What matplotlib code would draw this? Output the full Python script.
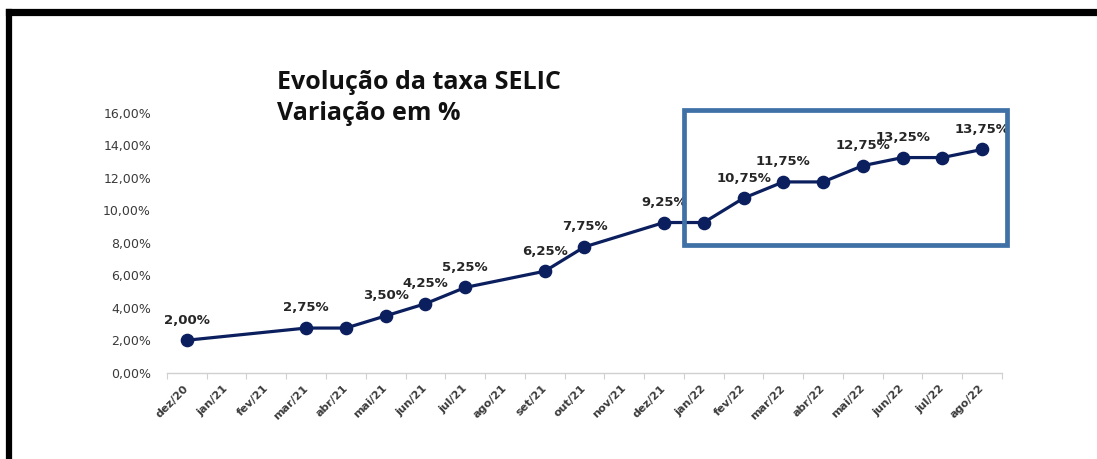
'''Evolucao da taxa SELIC, dez/20 a ago/22'''

import numpy as np
import matplotlib.pyplot as plt
from matplotlib.patches import Rectangle
from matplotlib.ticker import FuncFormatter, FixedLocator

months = ['dez/20', 'jan/21', 'fev/21', 'mar/21', 'abr/21', 'mai/21', 'jun/21',
          'jul/21', 'ago/21', 'set/21', 'out/21', 'nov/21', 'dez/21', 'jan/22',
          'fev/22', 'mar/22', 'abr/22', 'mai/22', 'jun/22', 'jul/22', 'ago/22']
selic = [2.00, None, None, 2.75, 2.75, 3.50, 4.25, 5.25, None, 6.25, 7.75,
         None, 9.25, 9.25, 10.75, 11.75, 11.75, 12.75, 13.25, 13.25, 13.75]
show_label = [1, 0, 0, 1, 0, 1, 1, 1, 0, 1, 1, 0, 1, 0, 1, 1, 0, 1, 1, 0, 1]

NAVY = '#0b1f5e'
BOX = '#3f70a6'


def pct(v, pos=None):
    return f'{v:.2f}%'.replace('.', ',')


def make_plot():
    fig = plt.figure(figsize=(10.97, 4.59), dpi=100)
    ax = fig.add_axes([0.1522, 0.188, 0.7612, 0.566])

    x = np.array([i for i, v in enumerate(selic) if v is not None])
    y = np.array([v for v in selic if v is not None])
    ax.plot(x, y, color=NAVY, lw=2.3, marker='o', ms=8.8,
            markerfacecolor=NAVY, markeredgecolor=NAVY, zorder=3)

    for i, v in enumerate(selic):
        if v is not None and show_label[i]:
            ax.annotate(pct(v), (i, v), xytext=(0, 14.5), textcoords='offset points',
                        ha='center', va='center', fontsize=9.5, fontweight='bold',
                        color='#262626')

    ax.set_xlim(-0.5, len(months) - 0.5)
    ax.set_ylim(0, 16)
    ax.set_yticks(np.arange(0, 17, 2))
    ax.yaxis.set_major_formatter(FuncFormatter(pct))
    ax.tick_params(axis='y', length=0, pad=11.5, labelsize=9, labelcolor='#3a3a3a')

    ax.set_xticks(range(len(months)))
    ax.set_xticklabels(months, rotation=45, ha='right', va='center',
                       rotation_mode='anchor', fontsize=8, fontweight='bold',
                       color='#3a3a3a')
    ax.tick_params(axis='x', which='major', length=0, pad=10)
    ax.xaxis.set_minor_locator(FixedLocator(np.arange(-0.5, len(months), 1)))
    ax.tick_params(axis='x', which='minor', length=4, width=0.8, color='#d0d0d0')

    for side in ['top', 'right', 'left']:
        ax.spines[side].set_visible(False)
    ax.spines['bottom'].set_color('#d0d0d0')
    ax.spines['bottom'].set_linewidth(1)

    fig.text(0.2525, 0.8054, 'Evolução da taxa SELIC', fontsize=18, fontweight='bold',
             family='Open Sans', va='baseline', ha='left', color='#111111')
    fig.text(0.2525, 0.7386, 'Variação em %', fontsize=18, fontweight='bold',
             family='Open Sans', va='baseline', ha='left', color='#111111')

    # highlight box around 2022
    fig.patches.append(Rectangle((0.6235, 0.4665), 0.2945, 0.2935, transform=fig.transFigure,
                                 fill=False, edgecolor=BOX, lw=3.4, zorder=5))

    # outer black frame (top and left edges)
    fig.add_artist(plt.Line2D([0.0086, 1.0], [0.9728, 0.9728], color='black', lw=5.2))
    fig.add_artist(plt.Line2D([0.0086, 0.0086], [0.0, 0.9728], color='black', lw=4.5))

    fig.savefig('out.png', dpi=100)


if __name__ == '__main__':
    make_plot()
